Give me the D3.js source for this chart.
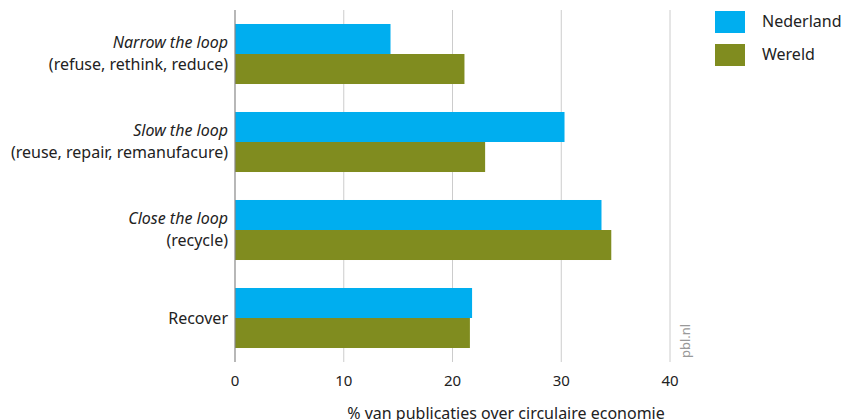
<!DOCTYPE html>
<html>
<head>
<meta charset="utf-8">
<script src="https://cdn.jsdelivr.net/npm/d3@7"></script>
<style>
  body { margin: 0; background: #fff; }
  text { font-family: "Noto Sans", sans-serif; fill: #222; }
</style>
</head>
<body>
<script>
//data
var categories = ["Narrow the loop", "Slow the loop", "Close the loop", "Recover"];
var subLabels = ["(refuse, rethink, reduce)", "(reuse, repair, remanufacure)", "(recycle)", ""];
var seriesNames = ["Nederland", "Wereld"];
var nederland = [14.3, 30.3, 33.7, 21.8];
var wereld = [21.1, 23.0, 34.6, 21.6];
var xTicks = [0, 10, 20, 30, 40];
var colors = ["#00AEEF", "#808C1F"];

var width = 842,
    height = 420;

var svg = d3.select("body").append("svg")
    .attr("width", width)
    .attr("height", height);

var x = d3.scaleLinear().domain([0, 40]).range([235, 670]);
var y = d3.scaleBand().domain(categories).range([10, 362])
    .paddingInner(0.318).paddingOuter(0.159);
var ySub = d3.scaleBand().domain(seriesNames).range([0, y.bandwidth()]);

//gridlines
svg.append("g")
    .selectAll("line")
    .data(xTicks.slice(1))
    .enter().append("line")
    .attr("x1", function(d) { return x(d); })
    .attr("x2", function(d) { return x(d); })
    .attr("y1", 10)
    .attr("y2", 362)
    .style("stroke", "#cccccc")
    .style("stroke-width", 1);

//bars
var rows = categories.map(function(c, i) {
    return { cat: c, values: [nederland[i], wereld[i]] };
});

var group = svg.selectAll("g.row")
    .data(rows)
    .enter().append("g")
    .attr("class", "row")
    .attr("transform", function(d) { return "translate(0," + y(d.cat) + ")"; });

group.selectAll("rect")
    .data(function(d) { return d.values.map(function(v, j) { return { s: seriesNames[j], v: v, j: j }; }); })
    .enter().append("rect")
    .attr("x", x(0))
    .attr("y", function(d) { return ySub(d.s); })
    .attr("width", function(d) { return x(d.v) - x(0); })
    .attr("height", ySub.bandwidth())
    .style("fill", function(d) { return colors[d.j]; });

//y axis line
svg.append("line")
    .attr("x1", x(0)).attr("x2", x(0))
    .attr("y1", 10).attr("y2", 362)
    .style("stroke", "#888888")
    .style("stroke-width", 1.2);

//category labels
var labels = svg.selectAll("g.lab")
    .data(categories)
    .enter().append("g")
    .attr("class", "lab");

labels.append("text")
    .attr("x", 228)
    .attr("y", function(d, i) { return subLabels[i] ? y(d) + y.bandwidth() / 2 - 6 : y(d) + y.bandwidth() / 2 + 6; })
    .attr("text-anchor", "end")
    .style("font-size", "16px")
    .style("font-style", function(d, i) { return subLabels[i] ? "italic" : "normal"; })
    .text(function(d) { return d; });

labels.append("text")
    .attr("x", 228)
    .attr("y", function(d) { return y(d) + y.bandwidth() / 2 + 16; })
    .attr("text-anchor", "end")
    .style("font-size", "16px")
    .text(function(d, i) { return subLabels[i]; });

//x tick labels
svg.append("g")
    .selectAll("text")
    .data(xTicks)
    .enter().append("text")
    .attr("x", function(d) { return x(d); })
    .attr("y", 386)
    .attr("text-anchor", "middle")
    .style("font-size", "15px")
    .text(function(d) { return d; });

//axis title
svg.append("text")
    .attr("x", 506)
    .attr("y", 419)
    .attr("text-anchor", "middle")
    .style("font-size", "16px")
    .text("% van publicaties over circulaire economie");

//source
svg.append("text")
    .attr("transform", "translate(690,358) rotate(-90)")
    .style("font-size", "13px")
    .style("fill", "#999999")
    .text("pbl.nl");

//legend
var legend = svg.selectAll("g.legend")
    .data(seriesNames)
    .enter().append("g")
    .attr("class", "legend")
    .attr("transform", function(d, i) { return "translate(715," + (11 + i * 33) + ")"; });

legend.append("rect")
    .attr("width", 30)
    .attr("height", 22)
    .style("fill", function(d, i) { return colors[i]; });

legend.append("text")
    .attr("x", 47)
    .attr("y", 16)
    .style("font-size", "16px")
    .text(function(d) { return d; });
</script>
</body>
</html>
